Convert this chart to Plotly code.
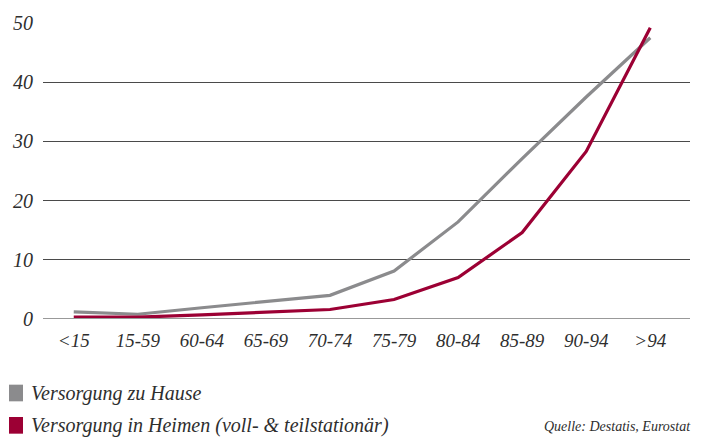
import plotly.graph_objects as go

# Altersgruppen und Anteile (in %)
age_groups = ["<15", "15-59", "60-64", "65-69", "70-74", "75-79", "80-84", "85-89", "90-94", ">94"]
zu_hause = [1.2, 0.8, 1.9, 3.0, 4.0, 8.1, 16.4, 27.1, 37.5, 47.5]
in_heimen = [0.3, 0.3, 0.7, 1.1, 1.6, 3.3, 7.0, 14.6, 28.3, 49.2]
y_ticks = [0, 10, 20, 30, 40, 50]

GRAY = "#8b8b8d"
RED = "#9c0034"
FONT = "Liberation Serif"
TEXT = "#2e2e2e"

fig = go.Figure()
fig.add_trace(go.Scatter(x=list(range(len(age_groups))), y=zu_hause, mode="lines",
                         line=dict(color=GRAY, width=3.2), cliponaxis=False,
                         name="Versorgung zu Hause"))
fig.add_trace(go.Scatter(x=list(range(len(age_groups))), y=in_heimen, mode="lines",
                         line=dict(color=RED, width=3.2), cliponaxis=False,
                         name="Versorgung in Heimen (voll- & teilstationär)"))

fig.update_layout(
    width=708, height=442,
    margin=dict(l=43, r=18, t=17, b=123),
    paper_bgcolor="white", plot_bgcolor="white",
    showlegend=False,
)
fig.update_xaxes(
    range=[-0.48, 9.62],
    tickmode="array", tickvals=list(range(len(age_groups))), ticktext=age_groups,
    tickfont=dict(family=FONT, size=19, style="italic", color=TEXT),
    showgrid=False, zeroline=False, showline=False, ticks="",
    ticklabelstandoff=8,
)
fig.update_yaxes(
    range=[0, 50],
    tickmode="array", tickvals=y_ticks,
    tickfont=dict(family=FONT, size=20, style="italic", color=TEXT),
    showgrid=True, gridcolor="#4a4a4a", gridwidth=1,
    zeroline=False, showline=False, ticks="",
    ticklabelstandoff=9,
)

# Nulllinie etwas heller und kräftiger
fig.add_shape(type="line", xref="paper", yref="y", x0=0, x1=1, y0=0, y1=0,
              line=dict(color="#999999", width=2), layer="above")

# Legende mit Farbfeldern
legend_items = [("Versorgung zu Hause", GRAY, 395),
                ("Versorgung in Heimen (voll- &amp; teilstationär)", RED, 428)]
for text, color, ypx in legend_items:
    fig.add_shape(type="rect", xref="paper", yref="paper",
                  x0=(9 - 43) / 647, x1=(23 - 43) / 647,
                  y0=(319 - (ypx + 8)) / 302, y1=(319 - (ypx - 9)) / 302,
                  fillcolor=color, line=dict(width=0))
    fig.add_annotation(xref="paper", yref="paper",
                       x=(29 - 43) / 647, y=(319 - ypx) / 302,
                       xanchor="left", yanchor="middle", showarrow=False,
                       text=text, font=dict(family=FONT, size=20, style="italic", color=TEXT))

fig.add_annotation(xref="paper", yref="paper", x=(693 - 43) / 647, y=(319 - 429) / 302,
                   xanchor="right", yanchor="middle", showarrow=False,
                   text="Quelle: Destatis, Eurostat",
                   font=dict(family=FONT, size=14, style="italic", color=TEXT))

fig.write_html("out.html")
